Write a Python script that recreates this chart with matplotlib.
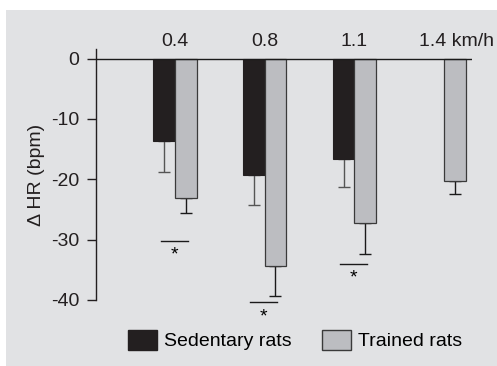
import matplotlib.pyplot as plt
import numpy as np
from matplotlib.patches import Rectangle, Patch

plt.rcParams['font.family'] = ['Liberation Sans', 'DejaVu Sans']

# treadmill speeds
speeds = ['0.4', '0.8', '1.1', '1.4 km/h']
# change in heart rate (bpm), mean and SEM
sedentary = [-13.6, -19.3, -16.6, np.nan]
sedentary_err = [5.2, 5.0, 4.6, np.nan]
trained = [-23.1, -34.3, -27.3, -20.2]
trained_err = [2.5, 5.0, 5.0, 2.3]
# significance bars (y value of line)
sig_y = [-30.2, -40.4, -34.0]

FS = 14
W, H = 497, 366
fig = plt.figure(figsize=(W / 100, H / 100), dpi=100)
fig.patches.append(Rectangle((6 / W, 0), 1, 1 - 10 / H, transform=fig.transFigure,
                             facecolor='#e1e2e4', edgecolor='none', zorder=-5))

# axes placed in pixels: y axis at x=96, top 49, bottom 300
ax = fig.add_axes([96 / W, 1 - 300 / H, (472 - 96) / W, (300 - 49) / H])
ax.patch.set_alpha(0)

x = np.arange(len(speeds))
w = 0.24
ax.bar(x - w / 2, sedentary, w, color='#231f20', edgecolor='#231f20', linewidth=0.8, zorder=2)
ax.bar(x + w / 2, trained, w, color='#bcbdc1', edgecolor='#3a3a3a', linewidth=0.9, zorder=2)

sed = np.array(sedentary)
tr = np.array(trained)
ax.errorbar(x - w / 2, sed, yerr=[sedentary_err, np.zeros(4)], fmt='none',
            ecolor='#555555', elinewidth=1, capsize=4, capthick=1, zorder=1)
ax.errorbar(x + w / 2, tr, yerr=[trained_err, np.zeros(4)], fmt='none',
            ecolor='#1a1a1a', elinewidth=1, capsize=4, capthick=1, zorder=1)

ax.axhline(0, color='#1a1a1a', linewidth=1, zorder=3)

for i, yv in enumerate(sig_y):
    ax.plot([i - 0.16, i + 0.14], [yv, yv], color='#1a1a1a', linewidth=1, clip_on=False)
    ax.text(i - 0.01, yv - 1.0, '*', ha='center', va='top', fontsize=FS, clip_on=False)

for i, s in enumerate(speeds):
    if i < 3:
        ax.text(i, 1.5, s, ha='center', va='bottom', fontsize=FS, color='#231f20')
    else:
        ax.text(i - 0.28, 1.5, s, ha='left', va='bottom', fontsize=FS, color='#231f20')

ax.set_xlim((96 - 175) / 89.67, (472 - 175) / 89.67)
ax.set_ylim(-40, 1.6)
ax.set_xticks([])
ax.set_yticks([0, -10, -20, -30, -40])
ax.set_yticklabels(['0', '-10', '-20', '-30', '-40'])
ax.tick_params(axis='y', length=6.5, width=1, pad=5.5, labelsize=FS, colors='#231f20')
for side in ['top', 'right', 'bottom']:
    ax.spines[side].set_visible(False)
ax.spines['left'].set_color('#231f20')
ax.spines['left'].set_linewidth(1)
ax.set_ylabel('\u0394 HR (bpm)', fontsize=FS, color='#231f20', labelpad=4)

handles = [Patch(facecolor='#231f20', edgecolor='#231f20', label='Sedentary rats'),
           Patch(facecolor='#bcbdc1', edgecolor='#3a3a3a', label='Trained rats')]
fig.legend(handles=handles, loc='center', bbox_to_anchor=(295 / W, 1 - 340 / H), ncol=2,
           frameon=False, fontsize=FS, handlelength=1.5, handleheight=1.2,
           handletextpad=0.35, columnspacing=1.6)

fig.savefig('out.png', dpi=100)
